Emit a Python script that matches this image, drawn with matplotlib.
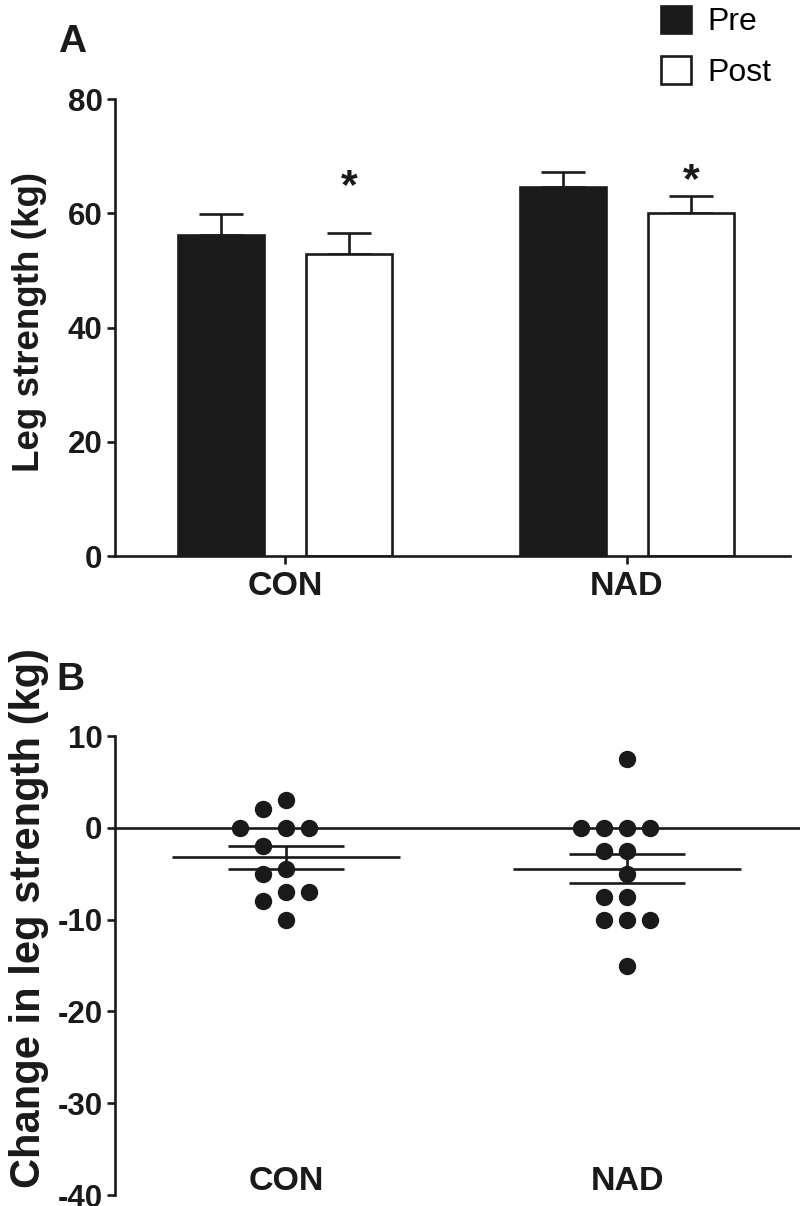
import numpy as np
import matplotlib
matplotlib.use("Agg")
import matplotlib.pyplot as plt
from matplotlib.patches import Patch

plt.rcParams['font.family'] = ['Liberation Sans', 'DejaVu Sans']
plt.rcParams['axes.unicode_minus'] = False

# ============ data ============
groups = ["CON", "NAD"]
pre_mean = [56.2, 64.6]
pre_sem = [3.7, 2.6]
post_mean = [52.9, 60.1]
post_sem = [3.7, 2.9]

con_change = [3, 2, 0, 0, 0, -2, -4.5, -5, -7, -7, -8, -10]
nad_change = [7.5, 0, 0, 0, 0, -2.5, -2.5, -5, -7.5, -7.5, -10, -10, -10, -15]

INK = "#1a1a1a"
LW = 1.9
TICK_FS = 22.5
CAT_FS = 24.5


def swarm_slots(vals, px_per_unit, slot_px=23.0, d_px=23.0):
    """simple beeswarm: column index for each point"""
    placed = []
    slots = [0] * len(vals)
    order = sorted(range(len(vals)), key=lambda i: -vals[i])
    for i in order:
        y = vals[i] * px_per_unit
        for k in [0, -1, 1, -2, 2, -3, 3, -4, 4]:
            x = k * slot_px
            if all((x - px) ** 2 + (y - py) ** 2 >= d_px ** 2 - 1e-6 for px, py in placed):
                break
        placed.append((x, y))
        slots[i] = k
    return slots


fig = plt.figure(figsize=(8, 12.06), dpi=100)

# ============ panel A ============
axA = fig.add_axes([0.14375, 0.53897, 0.84375, 0.37894])
x = np.arange(len(groups))
off = 0.187
bw = 0.251
axA.bar(x - off, pre_mean, bw, color=INK, edgecolor=INK, linewidth=LW, zorder=2)
axA.bar(x + off, post_mean, bw, color="white", edgecolor=INK, linewidth=LW, zorder=2)
axA.errorbar(x - off, pre_mean, yerr=[np.zeros(2), pre_sem], fmt="none",
             ecolor=INK, elinewidth=LW, capsize=16, capthick=LW, zorder=1)
axA.errorbar(x + off, post_mean, yerr=[np.zeros(2), post_sem], fmt="none",
             ecolor=INK, elinewidth=LW, capsize=16, capthick=LW, zorder=1)

axA.text(0 + off, 64.6, "*", ha="center", va="center", fontsize=31,
         fontweight="bold", color=INK)
axA.text(1 + off, 65.6, "*", ha="center", va="center", fontsize=31,
         fontweight="bold", color=INK)

axA.set_xlim(-0.497, 1.477)
axA.set_ylim(0, 80)
axA.set_yticks([0, 20, 40, 60, 80])
axA.set_xticks(x)
axA.set_xticklabels(groups, fontsize=CAT_FS, fontweight="bold", color=INK)
for s in ["top", "right"]:
    axA.spines[s].set_visible(False)
for s in ["left", "bottom"]:
    axA.spines[s].set_linewidth(LW)
    axA.spines[s].set_color(INK)
axA.tick_params(axis="y", labelsize=TICK_FS, width=LW, length=5.5, pad=3.5, color=INK)
axA.tick_params(axis="x", width=LW, length=5.5, pad=5, color=INK)
for t in axA.get_yticklabels():
    t.set_fontweight("bold")
    t.set_color(INK)

fig.text(30 / 800, 1 - 322 / 1206, "Leg strength (kg)", rotation=90, ha="center",
         va="center", fontsize=26.5, fontweight="bold", color=INK)
fig.text(72 / 800, 1 - 42 / 1206, "A", ha="center", va="center", fontsize=28,
         fontweight="bold", color=INK)

handles = [Patch(facecolor=INK, edgecolor=INK, linewidth=LW, label="Pre"),
           Patch(facecolor="white", edgecolor=INK, linewidth=LW, label="Post")]
fig.legend(handles=handles, loc="upper left", bbox_to_anchor=(648 / 800, 1.006),
           frameon=False, fontsize=23, handlelength=0.95, handleheight=0.95,
           handletextpad=0.5, labelspacing=0.6, borderaxespad=0)

# ============ panel B ============
axB = fig.add_axes([0.14375, 0.0091, 0.85625, 0.3806])
axB.set_xlim(-0.501, 1.507)
axB.set_ylim(-40, 10)
px_per_unit = 9.2
slot = 23.0 / 341.0
for gi, vals in enumerate([con_change, nad_change]):
    slots = swarm_slots(vals, px_per_unit)
    xs = gi + np.array(slots) * slot
    axB.plot(xs, vals, "o", ms=11.5, color=INK, zorder=3)
    m = np.mean(vals)
    se = np.std(vals, ddof=1) / np.sqrt(len(vals))
    axB.hlines(m, gi - 0.334, gi + 0.334, color=INK, lw=LW, zorder=2)
    axB.hlines([m - se, m + se], gi - 0.169, gi + 0.169, color=INK, lw=LW, zorder=2)
    axB.vlines(gi, m - se, m + se, color=INK, lw=LW, zorder=2)
    axB.text(gi, -38.5, groups[gi], ha="center", va="center", fontsize=CAT_FS,
             fontweight="bold", color=INK)

axB.axhline(0, color=INK, lw=LW, zorder=1)
axB.set_yticks([10, 0, -10, -20, -30, -40])
axB.set_xticks([])
for s in ["top", "right", "bottom"]:
    axB.spines[s].set_visible(False)
axB.spines["left"].set_linewidth(LW)
axB.spines["left"].set_color(INK)
axB.tick_params(axis="y", labelsize=TICK_FS, width=LW, length=5.5, pad=3.5, color=INK)
for t in axB.get_yticklabels():
    t.set_fontweight("bold")
    t.set_color(INK)

fig.text(29 / 800, 1 - 918 / 1206, "Change in leg strength (kg)", rotation=90,
         ha="center", va="center", fontsize=30, fontweight="bold", color=INK)
fig.text(70 / 800, 1 - 680 / 1206, "B", ha="center", va="center", fontsize=28,
         fontweight="bold", color=INK)

fig.savefig("out.png", dpi=100)
